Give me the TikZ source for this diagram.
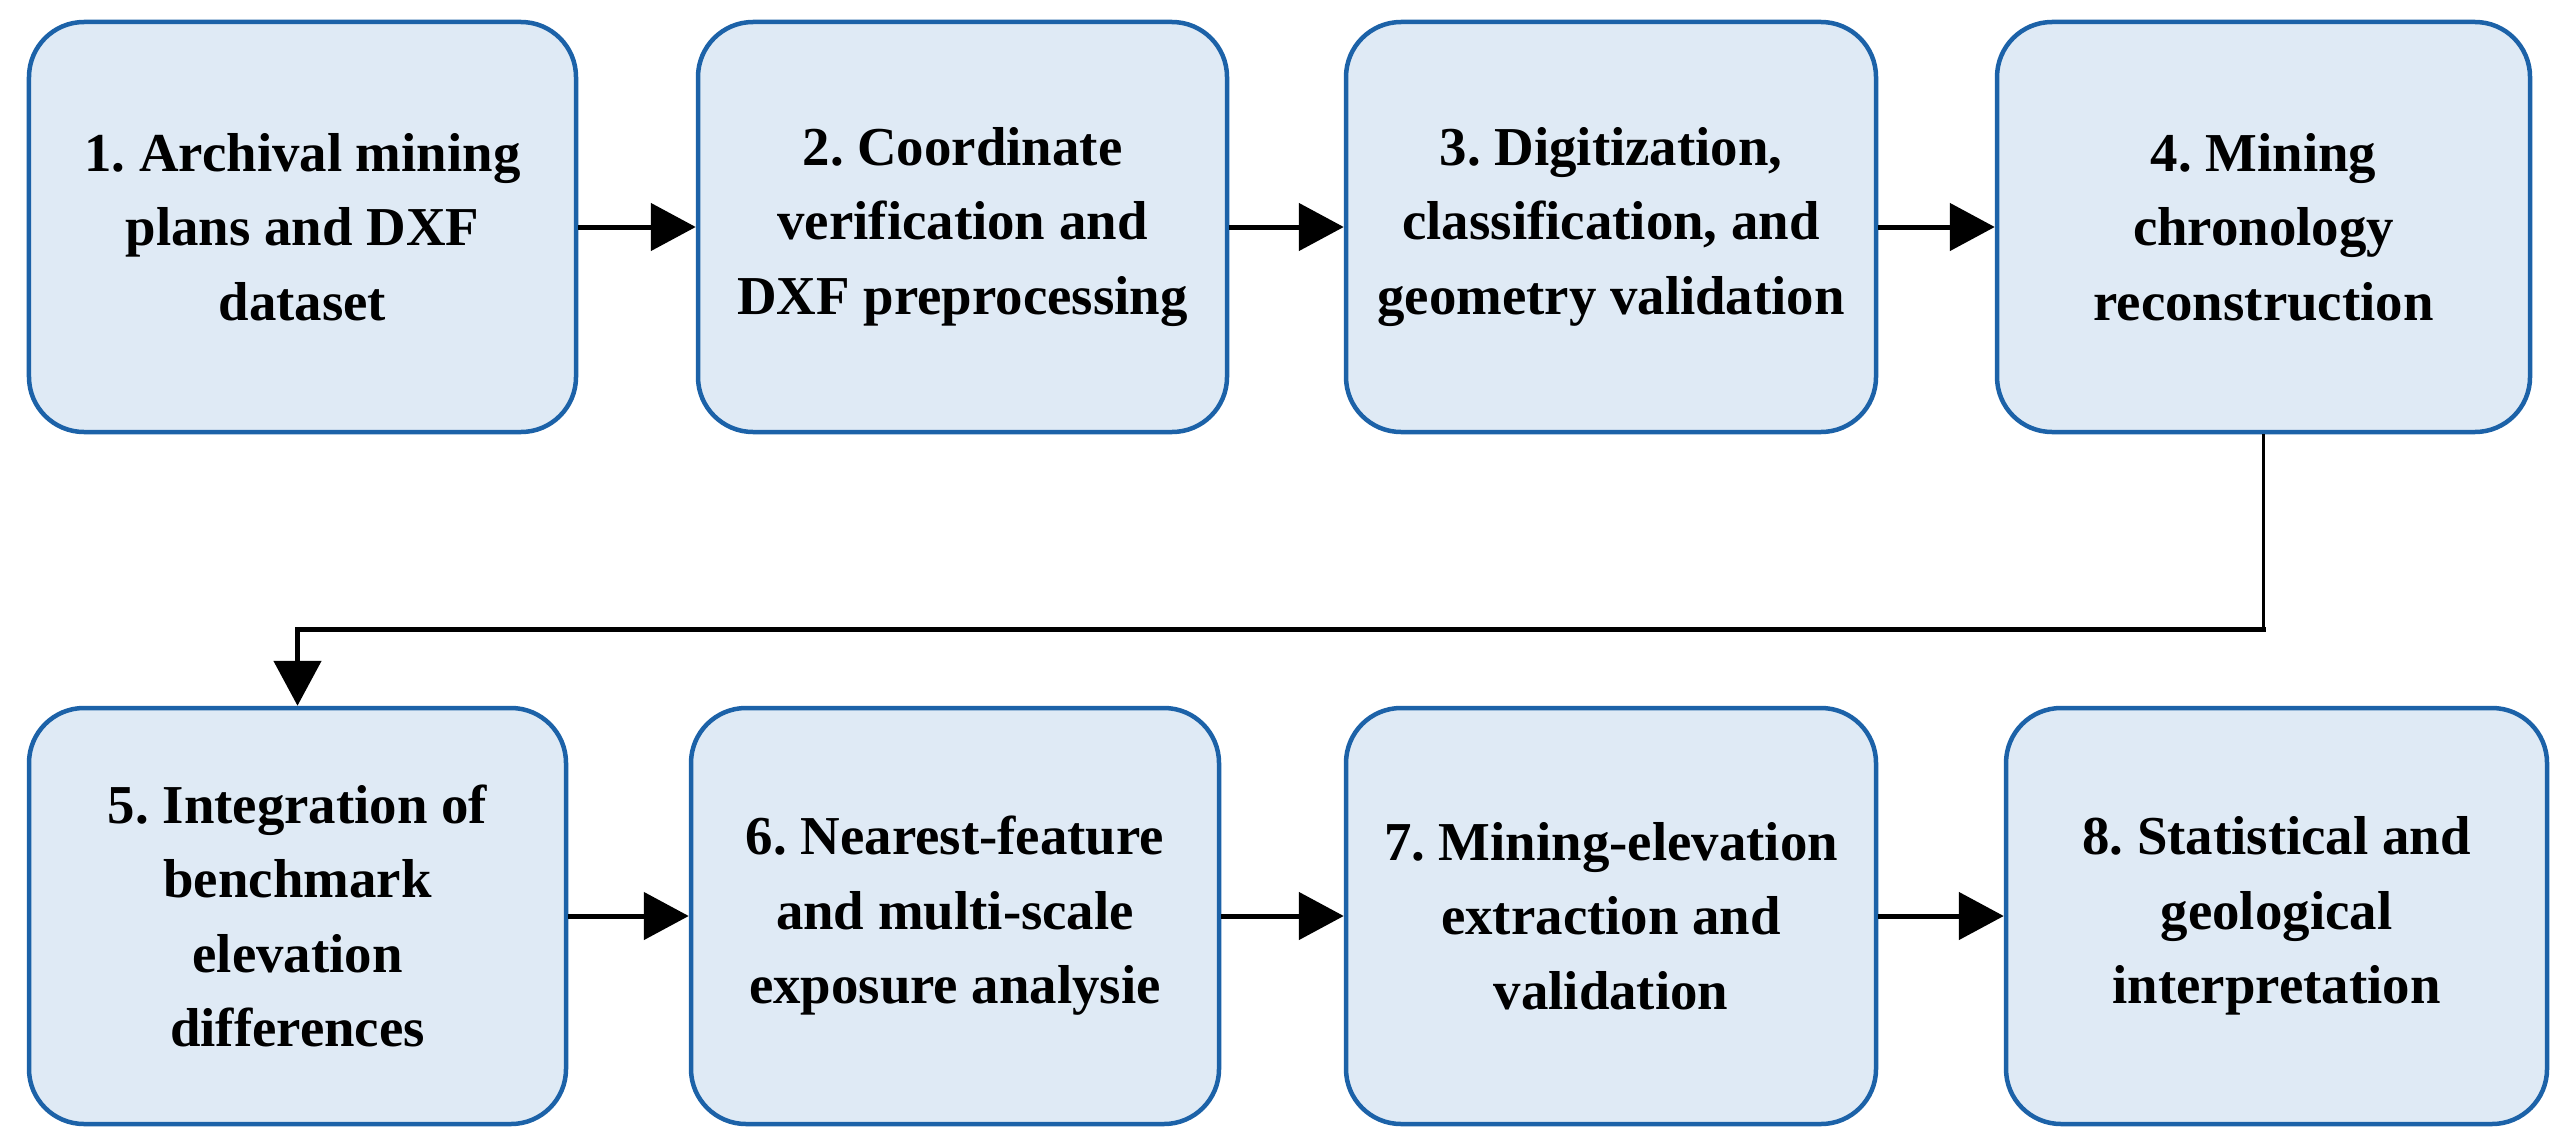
\documentclass[tikz,border=0pt]{standalone}
\usepackage{fontspec}
\setmainfont{Liberation Serif}
\usetikzlibrary{arrows.meta}
\definecolor{boxline}{HTML}{1C62A8}
\definecolor{boxfill}{HTML}{DFEAF5}
\tikzset{
  stepbox/.style={draw=boxline, fill=boxfill, line width=0.045cm, rounded corners=0.55cm,
    align=center, inner sep=0pt, font=\fontsize{15.6}{21.2}\selectfont\bfseries\frenchspacing},
  flow/.style={draw=black, line width=0.05cm, -{Triangle[length=0.45cm, width=0.47cm]}},
  thinlink/.style={draw=black, line width=0.03cm},
}
\begin{document}
\frenchspacing
\begin{tikzpicture}
\useasboundingbox[fill=white] (0,0) rectangle (25.70,11.42);
% row 1
\node[stepbox, minimum width=5.47cm, minimum height=4.10cm] (b1) at (3.025,9.15)
  {1. Archival mining\\plans and DXF\\dataset};
\node[stepbox, minimum width=5.29cm, minimum height=4.10cm] (b2) at (9.625,9.15)
  {2. Coordinate\\verification and\\DXF preprocessing};
\node[stepbox, minimum width=5.30cm, minimum height=4.10cm] (b3) at (16.11,9.15)
  {3. Digitization,\\classification, and\\geometry validation};
\node[stepbox, minimum width=5.33cm, minimum height=4.10cm] (b4) at (22.635,9.15)
  {4. Mining\\chronology\\reconstruction};
% row 2
\node[stepbox, minimum width=5.37cm, minimum height=4.16cm] (b5) at (2.975,2.26)
  {5. Integration of\\benchmark\\elevation\\differences};
\node[stepbox, minimum width=5.28cm, minimum height=4.16cm] (b6) at (9.55,2.26)
  {6. Nearest-feature\\and multi-scale\\exposure analysie};
\node[stepbox, minimum width=5.30cm, minimum height=4.16cm] (b7) at (16.11,2.26)
  {7. Mining-elevation\\extraction and\\validation};
\node[stepbox, minimum width=5.41cm, minimum height=4.16cm] (b8) at (22.765,2.26)
  {8. Statistical and\\geological\\interpretation};
% connectors
\draw[flow] (b1) -- (b2);
\draw[flow] (b2) -- (b3);
\draw[flow] (b3) -- (b4);
\coordinate (turn) at (b4.south |- 0,5.13);
\draw[thinlink] (b4.south) -- (turn);
\draw[flow, line cap=rect] (turn) -| (b5.north);
\draw[flow] (b5) -- (b6);
\draw[flow] (b6) -- (b7);
\draw[flow] (b7) -- (b8);
\end{tikzpicture}
\end{document}
